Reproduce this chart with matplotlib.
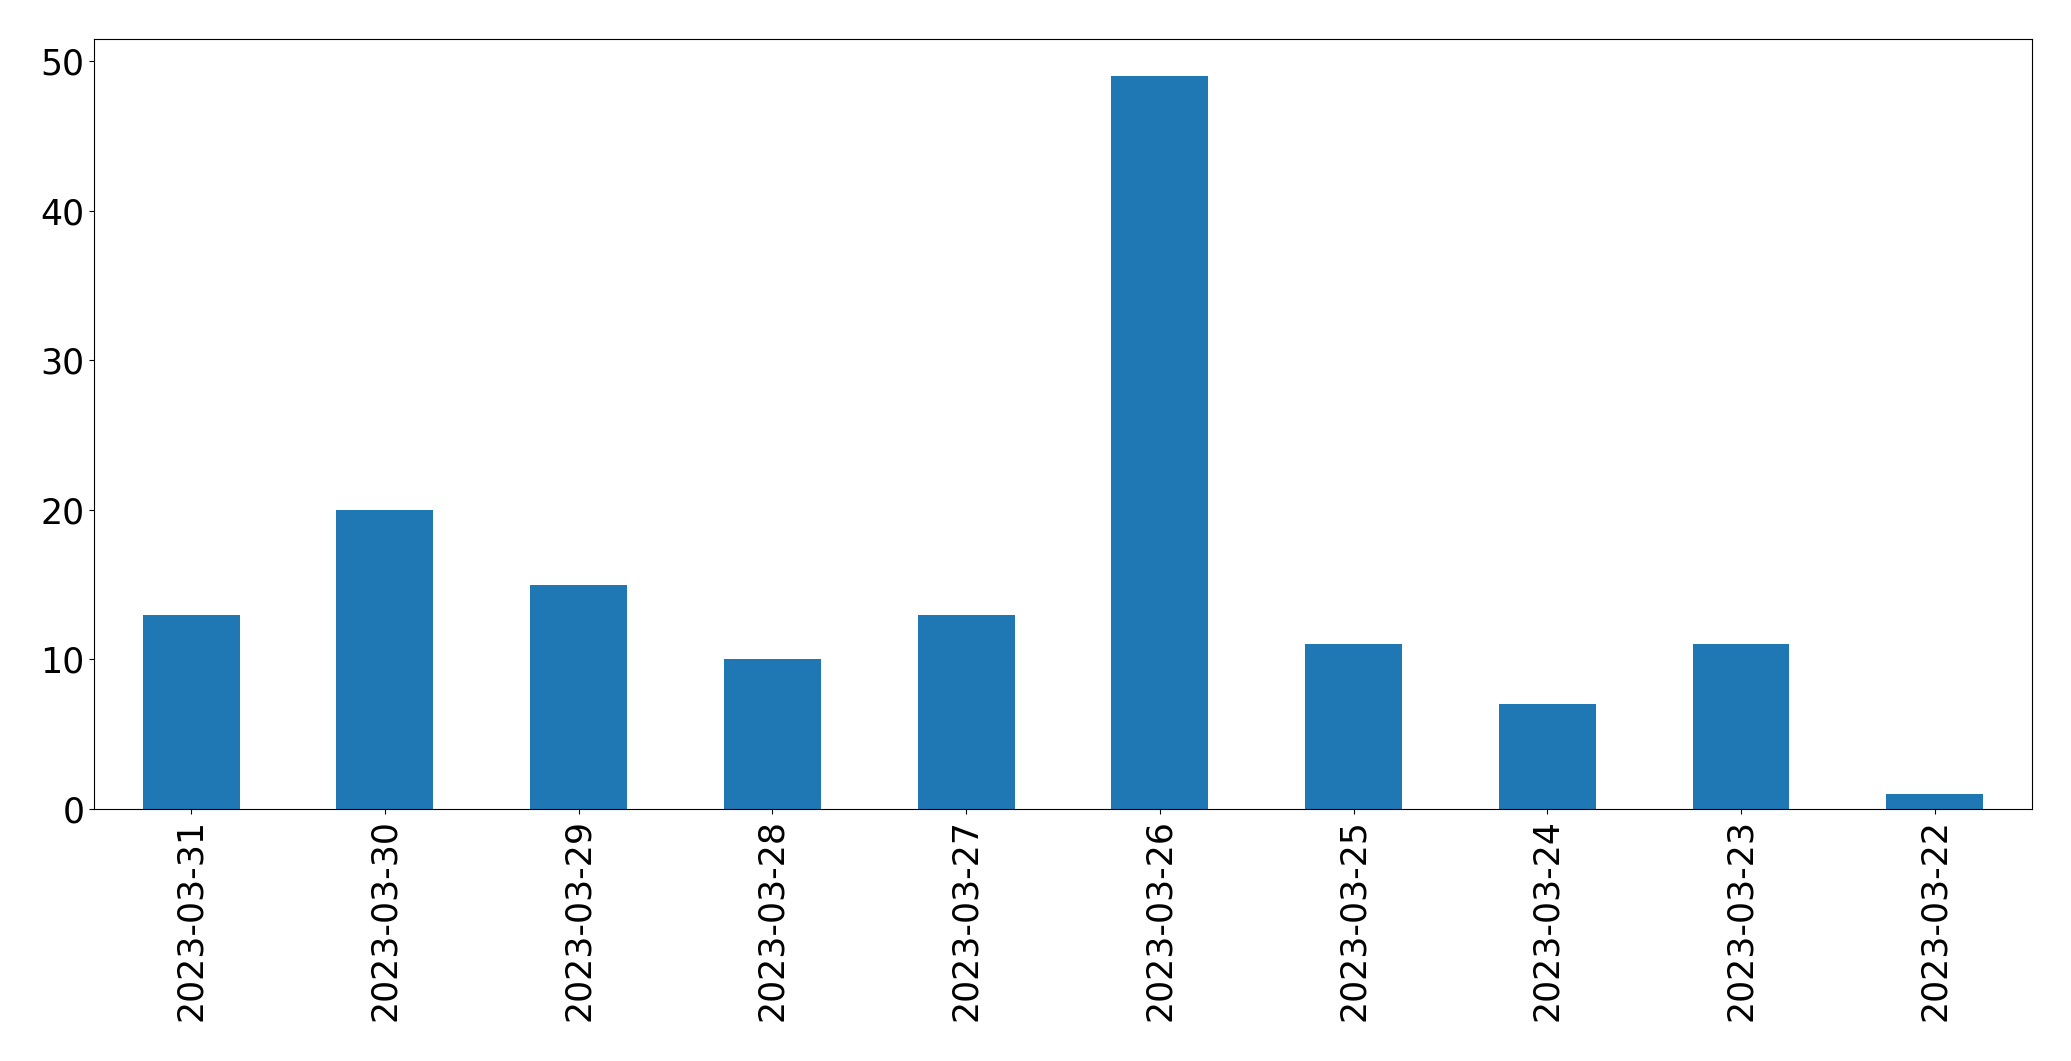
import matplotlib
matplotlib.use("Agg")
import matplotlib.pyplot as plt
import numpy as np

dates = ["2023-03-31", "2023-03-30", "2023-03-29", "2023-03-28", "2023-03-27",
         "2023-03-26", "2023-03-25", "2023-03-24", "2023-03-23", "2023-03-22"]
counts = [13, 20, 15, 10, 13, 49, 11, 7, 11, 1]

fig = plt.figure(figsize=(20.71, 10.61), dpi=100)
ax = fig.add_axes([0.0455, 0.2375, 0.9355, 0.7255])

x = np.arange(len(dates))
ax.bar(x, counts, width=0.5, color="#1f77b4")
ax.set_xlim(-0.5, len(dates) - 0.5)
ax.set_xticks(x)
ax.set_xticklabels(dates, rotation=90)
ax.tick_params(axis="both", labelsize=25)

fig.savefig("out.png", dpi=100)
